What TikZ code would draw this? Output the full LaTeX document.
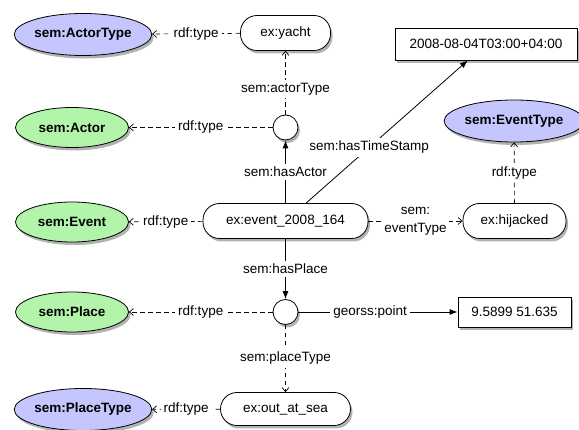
\documentclass[tikz,border=0pt]{standalone}
\usepackage{fontspec}
\setmainfont{Liberation Sans}
\usetikzlibrary{arrows.meta,shadows,shapes.geometric}
\definecolor{semgreen}{RGB}{178,245,170}
\definecolor{sempurple}{RGB}{198,198,255}
\begin{document}
\begin{tikzpicture}[x=1pt,y=-1pt,
  font=\fontsize{13.5}{16}\selectfont,
  shad/.style={drop shadow={shadow xshift=2pt,shadow yshift=-3pt,opacity=0.3,fill=black}},
  cls/.style={ellipse, draw, line width=0.8pt, inner sep=0pt, shad,
    font=\fontsize{13.5}{16}\selectfont\bfseries},
  greencls/.style={cls, fill=semgreen, minimum width=113pt, minimum height=40pt},
  purplecls/.style={cls, fill=sempurple, minimum width=137pt, minimum height=42pt},
  inst/.style={draw, rectangle, rounded corners=16.5pt, fill=white, minimum height=35pt,
    line width=0.8pt, shad},
  blank/.style={circle, draw, fill=white, minimum size=25pt, inner sep=0pt,
    line width=0.8pt, shad},
  lit/.style={draw, rectangle, fill=white, minimum height=32pt, line width=0.8pt, shad},
  typeedge/.style={draw, dash pattern=on 4.5pt off 3.5pt, line width=0.7pt,
    -{Straight Barb[length=4pt,width=7pt]}},
  reledge/.style={draw, line width=0.8pt, -{Latex[length=8pt,width=6pt]}},
  lbl/.style={fill=white, inner sep=3pt}
]
\useasboundingbox (0,0) rectangle (579,430);

% nodes
\node[purplecls] (actortype) at (83,34.5) {sem:ActorType};
\node[inst, minimum width=90pt] (yacht) at (285.5,33) {ex:yacht};
\node[greencls] (actor) at (72,127.5) {sem:Actor};
\node[blank] (actorbn) at (285.5,127.5) {};
\node[lit, minimum width=182pt] (date) at (486,44) {2008-08-04T03:00+04:00};
\node[purplecls, minimum width=134pt] (eventtype) at (514,121) {sem:EventType};
\node[greencls] (eventcls) at (72,222) {sem:Event};
\node[inst, minimum width=165pt] (event) at (285.5,221) {ex:event\_2008\_164};
\node[inst, minimum width=103pt] (hijacked) at (514.5,221) {ex:hijacked};
\node[greencls] (placecls) at (72,312) {sem:Place};
\node[blank] (placebn) at (285.5,312) {};
\node[lit, minimum width=113pt, minimum height=30pt] (point) at (514.5,312) {9.5899 51.635};
\node[purplecls] (placetype) at (83,409.5) {sem:PlaceType};
\node[inst, minimum width=130pt, minimum height=33pt] (sea) at (285.5,409) {ex:out\_at\_sea};

% edges
\draw[typeedge] (yacht) -- node[lbl]{rdf:type} (actortype);
\draw[typeedge] (actorbn) -- node[lbl, pos=0.4]{sem:actorType} (yacht);
\draw[typeedge] (actorbn) -- node[lbl]{rdf:type} (actor);
\draw[reledge] (event) -- node[lbl]{sem:hasActor} (actorbn);
\draw[reledge] (event.41) -- node[lbl, pos=0.39]{sem:hasTimeStamp} (date.222);
\draw[typeedge] (event) -- node[lbl]{rdf:type} (eventcls);
\draw[typeedge] (event) -- node[lbl, align=center, font=\fontsize{13.5}{18}\selectfont, inner sep=2pt]{sem:\\eventType} (hijacked);
\draw[typeedge] (hijacked) -- node[lbl]{rdf:type} (eventtype);
\draw[reledge] (event) -- node[lbl]{sem:hasPlace} (placebn);
\draw[typeedge] (placebn) -- node[lbl]{rdf:type} (placecls);
\draw[reledge] (placebn) -- node[lbl, pos=0.45]{georss:point} (point);
\draw[typeedge] (placebn) -- node[lbl]{sem:placeType} (sea);
\draw[typeedge] (sea) -- node[lbl]{rdf:type} (placetype);
\end{tikzpicture}
\end{document}
